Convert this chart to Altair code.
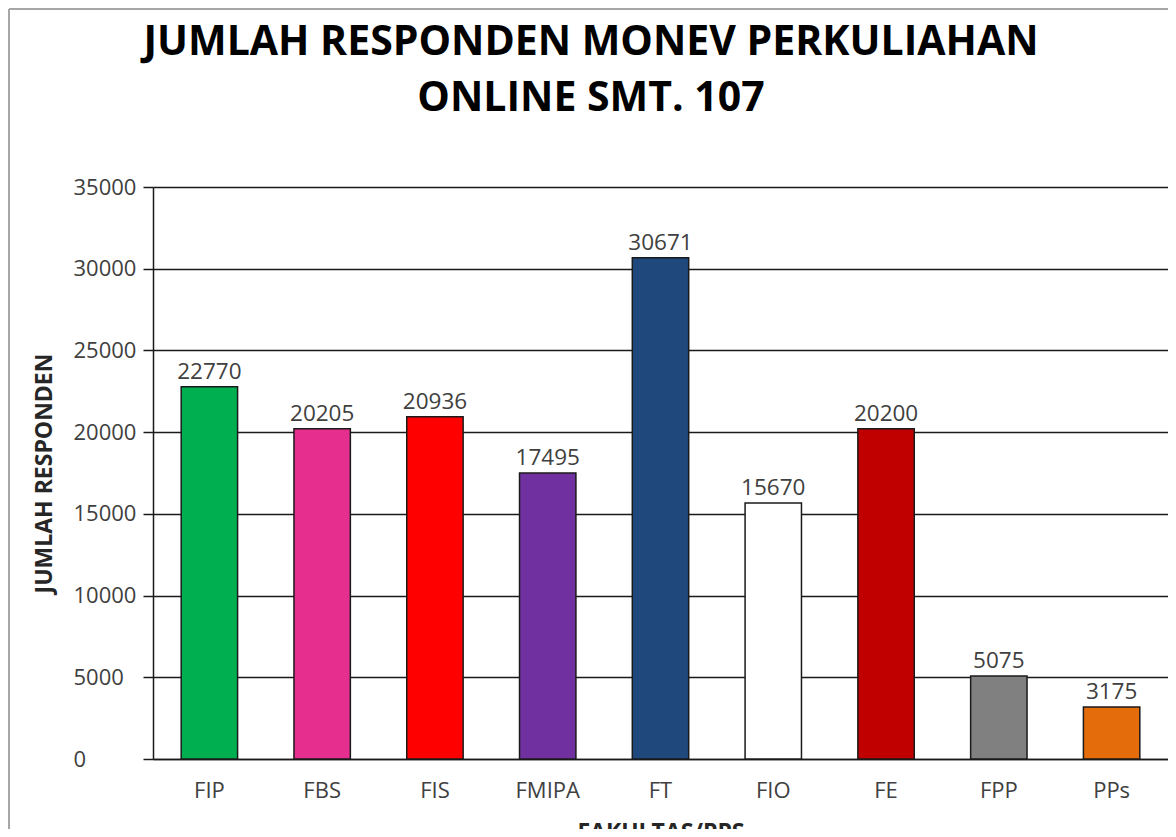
import altair as alt
import pandas as pd

categories = ["FIP", "FBS", "FIS", "FMIPA", "FT", "FIO", "FE", "FPP", "PPs"]
values = [22770, 20205, 20936, 17495, 30671, 15670, 20200, 5075, 3175]
colors = ["#00B050", "#E62E8F", "#FF0000", "#7030A0", "#1F497D",
          "#FFFFFF", "#C00000", "#808080", "#E46C0A"]
title_lines = ["JUMLAH RESPONDEN MONEV PERKULIAHAN", "ONLINE SMT. 107"]
y_ticks = [0, 5000, 10000, 15000, 20000, 25000, 30000, 35000]

df = pd.DataFrame({"fakultas": categories, "jumlah": values})

FONT = "Open Sans"
W = 1015
H = 572
INK = "#1a1a1a"

x_enc = alt.X(
    "fakultas:N", sort=categories,
    scale=alt.Scale(paddingInner=0.5, paddingOuter=0.25),
    axis=alt.Axis(
        title="FAKULTAS/PPS", labelAngle=0, ticks=False, labelPadding=21,
        labelFont=FONT, labelFontSize=22, labelColor="#404040",
        domainColor=INK, domainWidth=1.5,
        titleFont=FONT, titleFontSize=23, titleFontWeight="bold",
        titleColor="#262626", titleY=62, titleBaseline="top",
    ),
)
y_enc = alt.Y(
    "jumlah:Q",
    scale=alt.Scale(domain=[0, 35000]),
    axis=alt.Axis(
        values=y_ticks, format="d", title="JUMLAH RESPONDEN",
        tickSize=10, tickColor=INK, tickWidth=1.5,
        labelAlign="left", labelPadding=70, labelBaseline="middle",
        labelFont=FONT, labelFontSize=22, labelColor="#404040",
        gridColor=INK, gridWidth=1.5,
        domainColor=INK, domainWidth=1.5,
        titleFont=FONT, titleFontSize=23, titleFontWeight="bold",
        titleColor="#262626", titleAngle=270, titleX=-109, titleY=H / 2,
        titleAlign="center", titleBaseline="middle",
    ),
)

bars = alt.Chart(df).mark_bar(stroke=INK, strokeWidth=1.5).encode(
    x=x_enc,
    y=y_enc,
    color=alt.Color("fakultas:N", scale=alt.Scale(domain=categories, range=colors), legend=None),
)

labels = alt.Chart(df).mark_text(
    dy=-8, baseline="alphabetic", font=FONT, fontSize=22.5, color="#404040"
).encode(
    x=alt.X("fakultas:N", sort=categories),
    y=alt.Y("jumlah:Q"),
    text=alt.Text("jumlah:Q", format="d"),
)

one = pd.DataFrame({"k": [0]})
border_v = alt.Chart(one).mark_rule(color="#a6a6a6", strokeWidth=2).encode(
    x=alt.value(-144), y=alt.value(-178), y2=alt.value(H + 90)
)
border_h = alt.Chart(one).mark_rule(color="#a6a6a6", strokeWidth=2).encode(
    x=alt.value(-144), x2=alt.value(W + 5), y=alt.value(-178)
)

chart = alt.layer(border_v, border_h, bars, labels).properties(
    width=W,
    height=H,
    autosize=alt.AutoSizeParams(type="none"),
    padding={"left": 145, "top": 179, "right": 0, "bottom": 70},
    title=alt.TitleParams(
        text=title_lines, font=FONT, fontSize=41, fontWeight="bold",
        color="black", lineHeight=56, anchor="middle", frame="bounds",
        offset=-112,
    ),
).configure_view(stroke=None).configure(background="white")

chart.save("out.html", embed_options={"renderer": "svg", "actions": False})
